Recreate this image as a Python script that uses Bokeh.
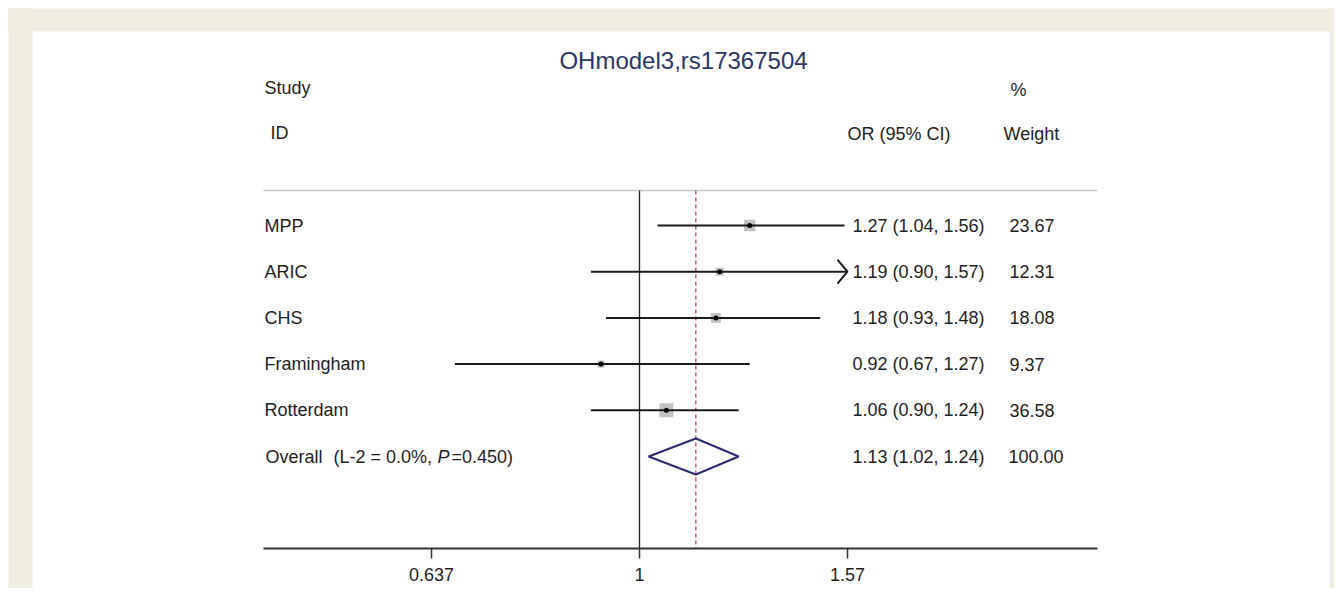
import numpy as np
from bokeh.plotting import figure
from bokeh.models import Range1d, FixedTicker, CustomJSTickFormatter
from bokeh.core.properties import value
from bokeh.embed import file_html
from bokeh.resources import INLINE

# ---------------- data ----------------
title_text = "OHmodel3,rs17367504"
studies = ["MPP", "ARIC", "CHS", "Framingham", "Rotterdam"]
or_est = [1.27, 1.19, 1.18, 0.92, 1.06]
ci_low = [1.04, 0.90, 0.93, 0.67, 0.90]
ci_high = [1.56, 1.57, 1.48, 1.27, 1.24]
weights = [23.67, 12.31, 18.08, 9.37, 36.58]
overall_name = "Overall"
overall_het = "(L-2 = 0.0%,"
overall_p_letter = "P"
overall_p_text = "=0.450)"
overall_or = 1.13
overall_low = 1.02
overall_high = 1.24
overall_weight = 100.00
x_ticks = [0.637, 1, 1.57]
tick_labels = ["0.637", "1", "1.57"]

# ---------------- layout helpers (screen px -> data) ----------------
PX_ONE = 639.0      # x of OR = 1
PX_PER_LN = 461.0   # pixels per unit of ln(OR)
ROW0_PX = 225.0     # y of first study row
ROW_PX = 46.2       # row spacing

FIG_W, FIG_H = 1334, 588
BEIGE = "#efece0"


def xo(px):
    return float(np.exp((px - PX_ONE) / PX_PER_LN))


def yr(px):
    return (px - ROW0_PX) / ROW_PX


FONT = value("Liberation Sans")
TXT = "#1e1e1e"

p = figure(width=FIG_W, height=FIG_H, output_backend="svg", toolbar_location=None,
           title_location=None, x_axis_type="log", y_axis_location=None,
           x_range=Range1d(xo(0), xo(FIG_W)),
           y_range=Range1d(yr(FIG_H), yr(0)),
           min_border_left=0, min_border_right=0, min_border_top=0, min_border_bottom=0)
p.border_fill_color = "white"
p.background_fill_color = "white"
p.outline_line_color = None
p.xgrid.visible = False
p.ygrid.visible = False

# page frame (beige bands around the white panel)
p.quad(left=[xo(8), xo(8), xo(1329)], right=[xo(32), xo(FIG_W + 20), xo(FIG_W + 20)],
       top=[yr(8), yr(8), yr(8)], bottom=[yr(FIG_H + 20), yr(31), yr(FIG_H + 20)],
       fill_color=BEIGE, line_color=None)

rows = list(range(len(studies)))
overall_row = len(studies)
x_max = x_ticks[-1]


def label(px, py, txt, size="18px", color=TXT, align="left", style="normal"):
    p.text(x=[xo(px)], y=[py], text=[txt], text_font=FONT, text_font_size=size,
           text_color=color, text_align=align, text_baseline="middle", text_font_style=style)


# title
label(683, yr(60), title_text, size="24px", color="#2b3566", align="center")

# headers
label(264, yr(87), "Study")
label(270, yr(132), "ID")
label(1010, yr(89), "%")
label(847, yr(133), "OR (95% CI)")
label(1003, yr(133), "Weight")

# separator line
p.segment(x0=[xo(263)], x1=[xo(1097)], y0=[yr(190)], y1=[yr(190)],
          line_color="#c8c8c8", line_width=1.5)

# reference lines
axis_row = yr(548)
p.segment(x0=[1], x1=[1], y0=[yr(190)], y1=[axis_row], line_color="#222222", line_width=1.3)
p.segment(x0=[overall_or], x1=[overall_or], y0=[yr(190)], y1=[axis_row],
          line_color="#b23a5a", line_width=1.2, line_dash="4 3")

# study labels and numeric columns
p.text(x=[xo(264)] * len(studies), y=rows, text=studies, text_font=FONT, text_font_size="18px",
       text_color=TXT, text_baseline="middle")
ci_texts = [f"{e:.2f} ({lo:.2f}, {hi:.2f})" for e, lo, hi in zip(or_est, ci_low, ci_high)]
p.text(x=[xo(852)] * len(studies), y=rows, text=ci_texts, text_font=FONT, text_font_size="18px",
       text_color=TXT, text_baseline="middle")
p.text(x=[xo(1009)] * len(studies), y=rows, text=[f"{w:.2f}" for w in weights], text_font=FONT,
       text_font_size="18px", text_color=TXT, text_baseline="middle")

# overall texts
label(265, overall_row, overall_name)
label(333, overall_row, overall_het)
label(437, overall_row, overall_p_letter, style="italic")
label(451, overall_row, overall_p_text)
label(852, overall_row, f"{overall_or:.2f} ({overall_low:.2f}, {overall_high:.2f})")
label(1008, overall_row, f"{overall_weight:.2f}")

# weight squares
max_w = max(weights)
sizes = [14.0 * np.sqrt(w / max_w) for w in weights]
p.scatter(x=or_est, y=rows, marker="square", size=sizes, fill_color="#c2c2c2", line_color=None)

# CI lines (clipped at the axis max, with arrow)
hi_clip = [min(h, x_max) for h in ci_high]
p.segment(x0=ci_low, x1=hi_clip, y0=rows, y1=rows, line_color="#1a1a1a", line_width=2)
arrow_back = float(np.exp(10.0 / PX_PER_LN))
arr_xs, arr_ys = [], []
for r, h in zip(rows, ci_high):
    if h >= x_max:
        arr_xs.append([x_max / arrow_back, x_max, x_max / arrow_back])
        arr_ys.append([r - 0.26, r, r + 0.26])
if arr_xs:
    p.multi_line(xs=arr_xs, ys=arr_ys, line_color="#1a1a1a", line_width=2)

# point estimates
p.scatter(x=or_est, y=rows, marker="circle", size=5, fill_color="black", line_color=None)

# overall diamond
p.patch(x=[overall_low, overall_or, overall_high, overall_or],
        y=[overall_row, overall_row - 0.39, overall_row, overall_row + 0.39],
        fill_color=None, line_color="#2c2a72", line_width=2)

# x axis placed inside the frame
ax = p.xaxis[0]
ax.fixed_location = axis_row
ax.bounds = (xo(263), xo(1097))
ax.ticker = FixedTicker(ticks=x_ticks)
ax.formatter = CustomJSTickFormatter(args=dict(labels=tick_labels), code="return labels[index];")
ax.axis_line_color = "#333333"
ax.axis_line_width = 2
ax.major_tick_line_color = "#333333"
ax.major_tick_line_width = 1.5
ax.major_tick_out = 10
ax.major_tick_in = 0
ax.minor_tick_line_color = None
ax.major_label_text_font = "Liberation Sans"
ax.major_label_text_font_size = "18px"
ax.major_label_text_color = TXT
ax.major_label_standoff = 9

open("out.html", "w").write(file_html(p, INLINE))
